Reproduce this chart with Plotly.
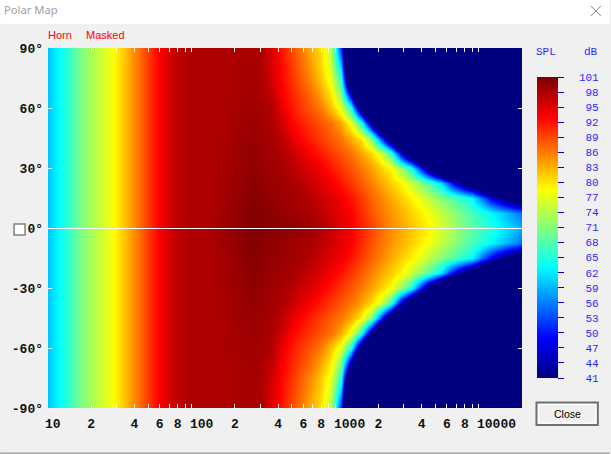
import math
import plotly.graph_objects as go

# Frequency columns as log10(Hz): coarse steps at the flat low end, finer where the field bends
log_freqs = [1.00, 1.11, 1.22, 1.33, 1.44, 1.55, 1.66, 1.77, 1.88, 1.99, 2.10, 2.21, 2.32,
             2.41, 2.48, 2.55, 2.62, 2.69, 2.76, 2.83, 2.90, 2.97, 3.04, 3.11, 3.18, 3.25, 3.32,
             3.39, 3.46, 3.53, 3.60, 3.67, 3.74, 3.81, 3.88, 3.95, 4.02, 4.09, 4.16, 4.23, 4.30]

# SPL (dB), one list per off-axis angle. Lists stop where the
# map has gone to the navy floor; BELOW_SCALE fills the remaining columns.
BELOW_SCALE = -40
low_end = [60, 64.4, 70.3, 74.05, 77.65, 82.7, 88.05, 93.2, 96.6, 97.9, 97.8]
spl_00 = low_end + [98.7, 99.8, 100.6, 100.3, 100.1, 99.9, 99.7, 99.3, 98.7, 97.8, 96.3, 94.8, 93.4, 91.4, 89.2, 87, 85, 83.5, 81.9, 80.3, 78.6, 76.1, 73.5, 70.9, 68.8, 66.7, 64.6, 62.5, 60.5, 58.5]
spl_07 = low_end + [98.6, 99.6, 100.4, 100.1, 99.8, 99.3, 98.9, 98.5, 98.1, 97.1, 95.8, 94.4, 93.1, 90.8, 88.4, 86.5, 84.6, 82.9, 81.2, 79.5, 77.4, 74.8, 72.2, 69.7, 67.4, 65.1, 62.8, 60.4, 57.7, 55]
spl_15 = low_end + [98.5, 99.4, 100.2, 99.8, 99.4, 99.05, 98.6, 98.2, 97.5, 96.2, 94.9, 93.7, 92, 89.8, 87.5, 85.4, 83.35, 81.3, 79.3, 76.75, 73.85, 71, 68.35, 65.75, 63.15, 55.2, 47.5, 41.7, 37, 33]
spl_22 = low_end + [98.4, 99.2, 100, 99.6, 99.1, 98.7, 98.3, 97.4, 96.2, 94.9, 93.6, 91.9, 89.9, 87.8, 85.8, 83.5, 81.2, 79, 75.4, 71.5, 67, 61.6, 49.8, 41.2, 32.7, 24.1, 15.6, 7, -1.5, -10]
spl_30 = low_end + [98.3, 99, 99.7, 99.2, 98.8, 98.3, 97.6, 96.2, 94.9, 93.5, 91.8, 90, 88.2, 86.3, 84, 81.2, 78.6, 72, 64.6, 50.4, 35.2, 20.2, 5.1, -10, -25]
spl_37 = low_end + [98.2, 98.9, 99.5, 99, 98.5, 98, 96.4, 94.7, 93.1, 91.5, 89.8, 88.1, 86.5, 83.95, 80.8, 76.1, 66.4, 46.5, 29.6, 12.4, -4.7, -21.7, -38.9]
spl_45 = low_end + [98.1, 98.7, 99.2, 98.8, 98.3, 97.1, 94.9, 92.8, 91.1, 89.5, 87.8, 86.2, 83.1, 79.6, 71.1, 52.4, 31.7, 11.5, -8.5, -28.7]
spl_52 = low_end + [98, 98.5, 99, 98.6, 98.2, 96.1, 93, 91.4, 89.8, 88.2, 86.6, 83.4, 77.8, 66, 42.2, 17, -8, -33]
spl_60 = low_end + [98, 98.4, 98.8, 98.4, 98, 94.4, 91.8, 89.9, 88, 86, 82.1, 76.8, 64.8, 36.4, 6.4, -24]
spl_67 = low_end + [97.9, 98.3, 98.6, 98.2, 96.8, 93.6, 91.2, 89, 86.8, 83.6, 79.5, 70.75, 43.5, 2.7, -37]
spl_75 = low_end + [97.9, 98.2, 98.4, 98.1, 95.8, 93, 90.4, 87.7, 85, 81.5, 77, 65.3, 18.5, -32]
spl_82 = low_end + [97.9, 98.1, 98.3, 98, 95.4, 92.6, 89.8, 87, 84, 80.8, 75.1, 58.3, 6]
spl_90 = low_end + [97.9, 98.1, 98.2, 98, 95.1, 92.1, 89, 86, 83, 80.1, 74.1, 51.3, 0]

half_angles = [0, 7.5, 15, 22.5, 30, 37.5, 45, 52.5, 60, 67.5, 75, 82.5, 90]
half_rows = [spl_00, spl_07, spl_15, spl_22, spl_30, spl_37, spl_45, spl_52, spl_60, spl_67, spl_75, spl_82, spl_90]
half_rows = [r + [BELOW_SCALE] * (len(log_freqs) - len(r)) for r in half_rows]

angles = [-a for a in half_angles[:0:-1]] + half_angles
z = half_rows[:0:-1] + half_rows

# Tick labels
angle_ticks = [-90, -60, -30, 0, 30, 60, 90]
angle_labels = ["-90°", "-60°", "-30°", "0°", "30°", "60°", "90°"]
freq_ticks = [20, 30, 40, 50, 60, 70, 80, 90, 100, 200, 300, 400, 500, 600, 700, 800, 900, 1000,
              2000, 3000, 4000, 5000, 6000, 7000, 8000, 9000, 10000]
freq_labels = ["2", "", "4", "", "6", "", "8", "", "", "2", "", "4", "", "6", "", "8", "", "",
               "2", "", "4", "", "6", "", "8", "", ""]
decade_ticks = [10, 100, 1000, 10000]
decade_labels = ["10", "100", "1000", "10000"]
decade_shift = [5, 10, 14, 18]
db_ticks = [41, 44, 47, 50, 53, 56, 59, 62, 65, 68, 71, 74, 77, 80, 83, 86, 89, 92, 95, 98, 101]
db_labels = [("\u00a0\u00a0" if v >= 100 else "\u00a0\u00a0\u00a0") + str(v) for v in db_ticks]

W, H = 611, 454
L, R, T, B = 48, 523, 48, 408
px = lambda x: (x - L) / (R - L)
py = lambda y: (B - y) / (B - T)

colorscale = [[0, "#000080"], [8 / 60, "#0000ff"], [22 / 60, "#00ffff"],
              [37.5 / 60, "#ffff00"], [52 / 60, "#ff0000"], [1, "#7a0000"]]

fig = go.Figure(go.Heatmap(
    x=log_freqs, y=angles, z=z, zsmooth="best", zmin=41, zmax=101, colorscale=colorscale,
    hoverinfo="skip",
    colorbar=dict(
        x=px(537), xanchor="left", xpad=0, y=py(378), yanchor="bottom", ypad=0,
        thickness=21, thicknessmode="pixels", len=301, lenmode="pixels",
        outlinewidth=0, tickmode="array", tickvals=db_ticks, ticktext=db_labels,
        ticks="outside", ticklen=6, tickwidth=1, tickcolor="#0000c0",
        tickfont=dict(family="Liberation Mono", size=11, color="#2a2aff"),
    ),
))

def label(x, y, text, size=12, color="#000000", family="Liberation Sans", anchor="left"):
    return dict(xref="paper", yref="paper", x=px(x), y=py(y), text=text, showarrow=False,
                xanchor=anchor, yanchor="middle", align=anchor,
                font=dict(family=family, size=size, color=color))

annotations = [
    label(2, 10, "Polar Map", 11.2, "#a09fa8", "Noto Sans"),
    label(46, 35, "Horn", 11, "#ff0000", "Liberation Sans"),
    label(84, 35, "Masked", 11, "#ff0000", "Liberation Sans"),
    label(547, 52, "SPL", 11, "#2a2aff", "Liberation Mono", "center"),
    label(592, 52, "dB", 11, "#2a2aff", "Liberation Mono", "center"),
    label(568.5, 413.5, "Close", 10.5, "#000000", "Liberation Sans", "center"),
]
for t, s, v in zip(decade_labels, decade_shift, decade_ticks):
    annotations.append(dict(xref="x", yref="paper", x=math.log10(v), y=py(424), xshift=s,
                            text=t, showarrow=False, xanchor="center", yanchor="middle",
                            font=dict(family="Liberation Mono", size=13, color="#111111", weight="bold")))

def rect(x0, y0, x1, y1, fill, line=None, w=0):
    return dict(type="rect", xref="paper", yref="paper", x0=px(x0), x1=px(x1), y0=py(y0), y1=py(y1),
                fillcolor=fill, line=dict(color=line or fill, width=w), layer="below")

def seg(x0, y0, x1, y1, color, w=1):
    return dict(type="line", xref="paper", yref="paper", x0=px(x0), x1=px(x1), y0=py(y0), y1=py(y1),
                line=dict(color=color, width=w))

shapes = [
    rect(0, 0, 611, 24, "#ffffff"),
    rect(0, 452.5, 611, 454, "#a8a8a8"),
    seg(592, 6, 602, 16, "#808080", 1),
    seg(592, 16, 602, 6, "#808080", 1),
    rect(537.5, 402.5, 599, 425, "#f0f0f0", "#707070", 2),
    rect(539.5, 404.5, 597, 423, "#f0f0f0", "#ffffff", 1),
    rect(14, 224, 25, 235, "#ffffff", "#808080", 1.5),
    seg(48, 228.5, 523, 228.5, "#ffffff", 1),
]

fig.update_layout(
    width=W, height=H, autosize=False,
    margin=dict(l=L, r=W - R, t=T, b=H - B, pad=0),
    paper_bgcolor="#f0f0f0", plot_bgcolor="#000080",
    annotations=annotations, shapes=shapes, showlegend=False,
    xaxis=dict(range=[1, 4.301], tickmode="array", tickvals=[math.log10(f) for f in freq_ticks], ticktext=freq_labels,
               ticks="inside", ticklen=4, tickwidth=1, tickcolor="#ffffff", mirror="ticks",
               showgrid=False, zeroline=False, showline=False, ticklabelstandoff=6,
               tickfont=dict(family="Liberation Mono", size=13, color="#111111", weight="bold")),
    yaxis=dict(range=[-90, 90], tickmode="array", tickvals=angle_ticks, ticktext=angle_labels,
               ticks="inside", ticklen=4, tickwidth=1, tickcolor="#ffffff", mirror="ticks",
               showgrid=False, zeroline=False, showline=False, ticklabelstandoff=4,
               tickfont=dict(family="Liberation Mono", size=13, color="#111111", weight="bold")),
)

fig.write_html("out.html", config=dict(displayModeBar=False),
               post_script="document.body.style.margin='0';")
